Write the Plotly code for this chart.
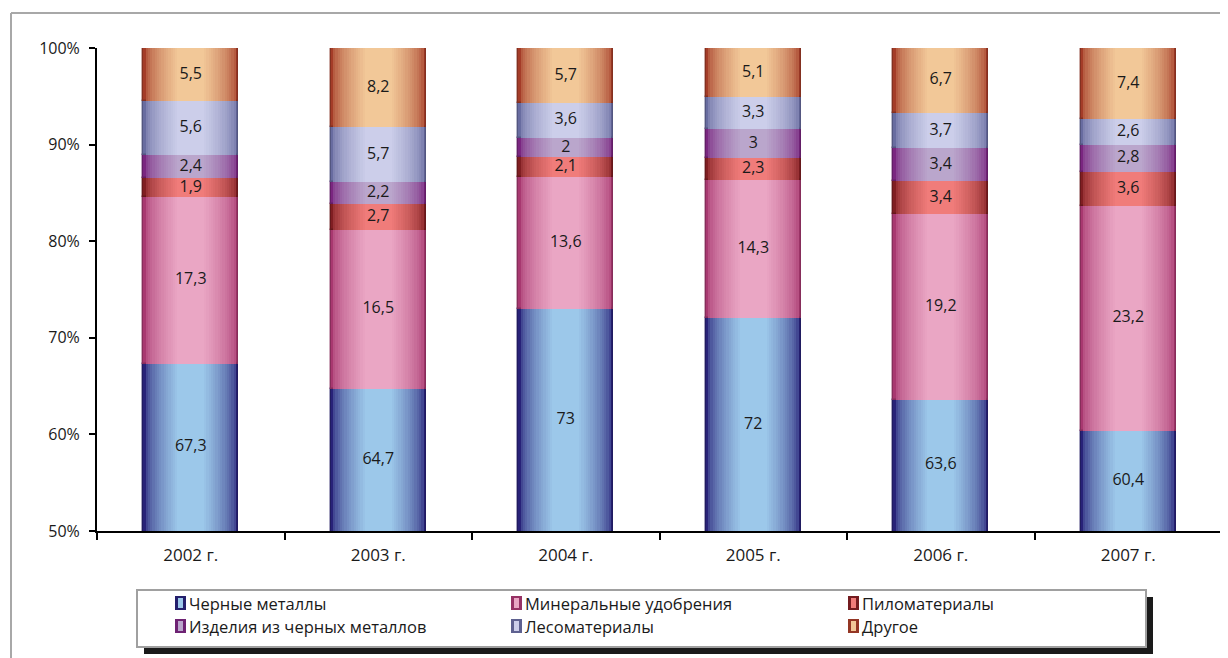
import plotly.graph_objects as go

categories = ["2002 г.", "2003 г.", "2004 г.", "2005 г.", "2006 г.", "2007 г."]
series_names = ["Черные металлы", "Минеральные удобрения", "Пиломатериалы",
                "Изделия из черных металлов", "Лесоматериалы", "Другое"]
chernye_metally = [67.3, 64.7, 73, 72, 63.6, 60.4]
mineralnye_udobreniya = [17.3, 16.5, 13.6, 14.3, 19.2, 23.2]
pilomaterialy = [1.9, 2.7, 2.1, 2.3, 3.4, 3.6]
izdeliya = [2.4, 2.2, 2, 3, 3.4, 2.8]
lesomaterialy = [5.6, 5.7, 3.6, 3.3, 3.7, 2.6]
drugoe = [5.5, 8.2, 5.7, 5.1, 6.7, 7.4]
series_values = [chernye_metally, mineralnye_udobreniya, pilomaterialy,
                 izdeliya, lesomaterialy, drugoe]

# (edge colour, centre colour) per series
palette = [
    ((40, 34, 120), (156, 200, 234)),
    ((168, 56, 112), (234, 166, 196)),
    ((128, 30, 34), (240, 124, 122)),
    ((122, 38, 128), (186, 166, 204)),
    ((104, 108, 160), (204, 206, 234)),
    ((164, 60, 40), (242, 200, 152)),
]

# page has an 8px body margin: figure coordinates are screen coordinates minus 8
OFF = 8
W, H = 1228 - OFF, 658 - OFF
L, R, T, B = 97 - OFF, 1222 - OFF, 48 - OFF, 531 - OFF
Y0, Y1 = 50, 100
FONT = "Open Sans"


def px(x):
    return (x - OFF - L) / (R - L)


def py(y):
    return (B - (y - OFF)) / (B - T)


def mix(a, b, t):
    return "rgb(%d,%d,%d)" % tuple(round(a[i] + (b[i] - a[i]) * t) for i in range(3))


fig = go.Figure()
BAR_W = 0.507
N = 16
bases = [0.0] * len(categories)
label_x, label_y, label_t = [], [], []
for s, vals in enumerate(series_values):
    edge, centre = palette[s]
    for k in range(N):
        frac = 1 - 0.72 * k / (N - 1)
        t = (k / (N - 1)) ** 0.55
        fig.add_trace(go.Bar(
            x=categories, y=vals, base=bases, width=BAR_W * frac,
            marker=dict(color=mix(edge, centre, t),
                        line=dict(width=1.4 if k == 0 else 0,
                                  color=mix(edge, (0, 0, 0), 0.2))),
            showlegend=False, hoverinfo="skip"))
    for i, v in enumerate(vals):
        lo = max(bases[i], Y0)
        hi = bases[i] + v
        label_x.append(categories[i])
        label_y.append((lo + hi) / 2)
        label_t.append(("%g" % v).replace(".", ","))
    bases = [bases[i] + vals[i] for i in range(len(vals))]

fig.add_trace(go.Scatter(x=label_x, y=label_y, text=label_t, mode="text",
                         textfont=dict(family=FONT, size=16, color="#1a1a1a"),
                         showlegend=False, hoverinfo="skip"))

shapes = []
# outer chart border (partially visible)
shapes.append(dict(type="line", xref="paper", yref="paper", x0=px(11), x1=px(1260),
                   y0=py(13), y1=py(13), line=dict(color="#a8a8a8", width=2)))
shapes.append(dict(type="line", xref="paper", yref="paper", x0=px(11), x1=px(11),
                   y0=py(13), y1=py(700), line=dict(color="#a8a8a8", width=2)))
# legend box with shadow
lx0, lx1, ly0, ly1 = 137, 1146, 590, 647
shapes.append(dict(type="rect", xref="paper", yref="paper", x0=px(lx0 + 7), x1=px(lx1 + 7),
                   y0=py(ly0 + 7), y1=py(ly1 + 7), fillcolor="#1a1a1a", line=dict(width=0)))
shapes.append(dict(type="rect", xref="paper", yref="paper", x0=px(lx0), x1=px(lx1),
                   y0=py(ly0), y1=py(ly1), fillcolor="white",
                   line=dict(color="#a0a0a0", width=2)))

annotations = []
col_x = [175, 511, 848]
row_y = [603, 626]
for s, name in enumerate(series_names):
    cx = col_x[s % 3]
    cy = row_y[s // 3]
    edge, centre = palette[s]
    shapes.append(dict(type="rect", xref="paper", yref="paper", x0=px(cx), x1=px(cx + 11),
                       y0=py(cy - 7), y1=py(cy + 7), fillcolor=mix(edge, (0, 0, 0), 0.1),
                       line=dict(width=0)))
    shapes.append(dict(type="rect", xref="paper", yref="paper", x0=px(cx + 3), x1=px(cx + 8),
                       y0=py(cy - 5), y1=py(cy + 5), fillcolor=mix(centre, centre, 0),
                       line=dict(width=0)))
    annotations.append(dict(xref="paper", yref="paper", x=px(cx + 12), y=py(cy),
                            xanchor="left", yanchor="middle", showarrow=False, text=name,
                            font=dict(family=FONT, size=16.5, color="#1a1a1a")))

fig.update_layout(
    width=W, height=H, barmode="overlay", bargap=0,
    margin=dict(l=L, r=W - R, t=T, b=H - B, pad=0),
    paper_bgcolor="white", plot_bgcolor="white",
    font=dict(family=FONT, size=16, color="#1a1a1a"),
    shapes=shapes, annotations=annotations,
    xaxis=dict(type="category", showline=True, linecolor="black", linewidth=2,
               ticks="outside", tickson="boundaries", ticklen=7, tickwidth=2,
               tickcolor="black", showgrid=False, zeroline=False,
               ticklabelstandoff=8, tickfont=dict(size=17)),
    yaxis=dict(range=[Y0, Y1], dtick=10, ticksuffix="%", showline=True,
               linecolor="black", linewidth=2, ticks="outside", ticklen=6,
               tickwidth=2, tickcolor="black", showgrid=False, zeroline=False,
               ticklabelstandoff=6, tickfont=dict(size=16)),
)

fig.write_html("out.html")
